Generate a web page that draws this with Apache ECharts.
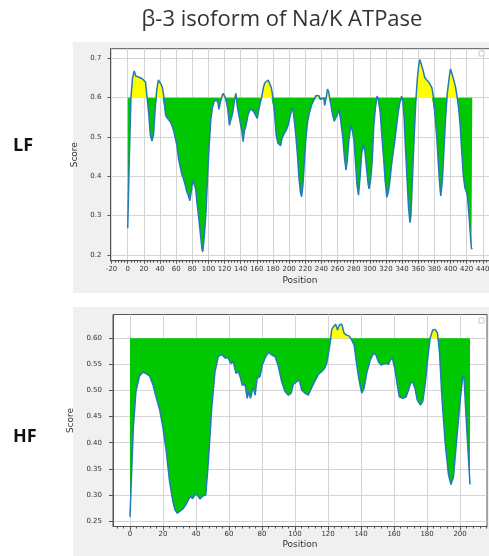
<!DOCTYPE html>
<html>
<head>
<meta charset="utf-8">
<script src="https://cdn.jsdelivr.net/npm/echarts@6/dist/echarts.min.js"></script>
<style>
  html, body { margin: 0; padding: 0; background: #ffffff; }
  #chart { width: 489px; height: 556px; }
</style>
</head>
<body>
<div id="chart"></div>
<script>
// Hydrophobicity-style score profiles, threshold drawn at 0.6
const THRESHOLD = 0.6;

// LF profile: residue position and score
const lfPos = [0, 2, 4, 6, 8, 10, 12, 14, 16, 18, 20, 22, 24, 26, 28, 30, 32, 34, 36, 38, 39, 41, 43, 45, 47, 49, 51, 53, 55, 57, 59, 61, 63, 65, 67, 69, 71, 73, 75, 77, 79, 80.5, 82.5, 84, 86, 88, 90, 92, 93, 95, 97, 99, 101, 103, 105, 107, 110, 112, 113, 115, 117, 118.5, 120, 122, 124, 126, 128, 130, 132, 134, 136, 138, 140, 141.5, 143, 144.5, 146.5, 149, 152, 154, 156, 158, 160.5, 162, 164, 166, 168, 170, 172, 174, 176, 178, 180, 182, 184, 186, 188, 189.5, 191, 193, 195, 197, 199, 201, 203, 204.5, 206.5, 208.5, 210.5, 212, 214, 215.5, 217, 219, 221, 223, 225, 228, 231, 233, 235, 237, 239, 241, 243, 244, 246, 247.5, 249, 250.5, 252, 254, 256, 258, 260, 262, 264, 266.5, 268.5, 270.5, 272, 274, 276.5, 278.5, 280.5, 282.5, 284, 286, 288, 290, 292, 294, 296, 298, 299, 301, 303, 305, 307, 309, 311, 313, 315, 317, 319, 321, 323, 325, 327, 329, 331, 333, 335, 337, 339.5, 341, 342.5, 344, 346, 348, 349.8, 351, 353, 355, 357, 359, 360.5, 362, 364, 366, 368, 370.5, 373, 375, 377, 379, 381, 383, 385, 387, 388, 390, 392, 394, 396, 398, 400, 402, 404, 406, 408, 410, 412, 414, 416, 418, 419.5, 421, 423, 425, 426, 427];
const lfScore = [0.268, 0.45, 0.60, 0.65, 0.668, 0.655, 0.657, 0.652, 0.655, 0.648, 0.650, 0.640, 0.600, 0.560, 0.505, 0.490, 0.505, 0.570, 0.620, 0.645, 0.650, 0.635, 0.625, 0.600, 0.555, 0.548, 0.550, 0.538, 0.528, 0.515, 0.497, 0.478, 0.445, 0.425, 0.405, 0.395, 0.380, 0.362, 0.352, 0.338, 0.365, 0.390, 0.386, 0.370, 0.330, 0.295, 0.255, 0.215, 0.208, 0.250, 0.310, 0.400, 0.480, 0.545, 0.575, 0.590, 0.595, 0.585, 0.570, 0.590, 0.605, 0.611, 0.607, 0.595, 0.570, 0.530, 0.535, 0.560, 0.590, 0.611, 0.575, 0.553, 0.530, 0.515, 0.488, 0.515, 0.528, 0.555, 0.572, 0.569, 0.565, 0.557, 0.547, 0.565, 0.585, 0.600, 0.625, 0.638, 0.642, 0.645, 0.640, 0.625, 0.600, 0.560, 0.505, 0.485, 0.480, 0.478, 0.495, 0.505, 0.510, 0.520, 0.532, 0.550, 0.567, 0.575, 0.540, 0.500, 0.450, 0.400, 0.360, 0.348, 0.375, 0.440, 0.500, 0.540, 0.560, 0.582, 0.595, 0.605, 0.610, 0.605, 0.595, 0.590, 0.600, 0.580, 0.600, 0.622, 0.615, 0.610, 0.580, 0.555, 0.540, 0.540, 0.558, 0.570, 0.540, 0.500, 0.450, 0.416, 0.440, 0.490, 0.530, 0.515, 0.490, 0.430, 0.380, 0.352, 0.400, 0.460, 0.481, 0.462, 0.420, 0.380, 0.368, 0.390, 0.440, 0.530, 0.575, 0.604, 0.595, 0.560, 0.500, 0.450, 0.390, 0.347, 0.360, 0.390, 0.430, 0.460, 0.490, 0.525, 0.560, 0.585, 0.604, 0.590, 0.550, 0.480, 0.400, 0.320, 0.282, 0.300, 0.400, 0.500, 0.590, 0.650, 0.680, 0.697, 0.695, 0.670, 0.652, 0.645, 0.640, 0.636, 0.625, 0.600, 0.550, 0.500, 0.430, 0.370, 0.350, 0.390, 0.470, 0.550, 0.610, 0.645, 0.673, 0.660, 0.655, 0.630, 0.605, 0.575, 0.530, 0.460, 0.400, 0.370, 0.362, 0.350, 0.300, 0.240, 0.217, 0.215];

// HF profile: residue position and score
const hfPos = [0, 2, 3.6, 5.7, 7.7, 10, 12, 14, 16, 18, 20, 22, 24, 26, 27.3, 28.7, 30.3, 32.3, 34.3, 36.4, 38, 39.4, 40.8, 42.4, 44, 45.9, 47.5, 49.5, 51.5, 53.5, 55.6, 57.6, 59.6, 61, 62.6, 64.2, 65.7, 66.7, 68, 69.7, 71, 72, 73, 74.7, 75.8, 77, 78.8, 80.2, 81.8, 83.8, 85.9, 87.9, 89.9, 91.9, 93.9, 96, 97.6, 99, 101, 102.6, 104, 106, 108, 110, 112, 114, 116, 117.6, 119.2, 120.8, 122.2, 123.2, 124.6, 125.7, 126.9, 128.3, 129.7, 131.3, 132.9, 134.3, 135.8, 137.4, 138.8, 140.4, 141.8, 143.4, 145.5, 147.5, 149, 150.5, 152, 153.5, 155, 156.6, 157.6, 159, 160.6, 162, 163.2, 165.3, 167.3, 168.7, 170, 171.3, 172.7, 174, 176, 177.4, 178.8, 180.2, 181.8, 183.4, 184.8, 186.3, 187.5, 188.9, 190.9, 193, 194.5, 196, 198, 200, 201.6, 202.4, 204, 206];
const hfScore = [0.258, 0.428, 0.498, 0.527, 0.535, 0.532, 0.527, 0.510, 0.485, 0.463, 0.428, 0.383, 0.325, 0.287, 0.271, 0.265, 0.269, 0.274, 0.284, 0.297, 0.293, 0.301, 0.300, 0.292, 0.298, 0.300, 0.364, 0.466, 0.536, 0.565, 0.569, 0.562, 0.562, 0.552, 0.555, 0.533, 0.536, 0.527, 0.510, 0.512, 0.485, 0.498, 0.485, 0.507, 0.491, 0.523, 0.527, 0.549, 0.562, 0.573, 0.568, 0.565, 0.546, 0.517, 0.498, 0.491, 0.495, 0.512, 0.517, 0.520, 0.501, 0.495, 0.491, 0.505, 0.518, 0.530, 0.536, 0.541, 0.552, 0.581, 0.616, 0.622, 0.627, 0.616, 0.626, 0.627, 0.610, 0.606, 0.604, 0.597, 0.587, 0.549, 0.520, 0.495, 0.504, 0.533, 0.558, 0.571, 0.568, 0.555, 0.549, 0.550, 0.552, 0.550, 0.558, 0.562, 0.539, 0.510, 0.488, 0.485, 0.488, 0.501, 0.514, 0.516, 0.504, 0.482, 0.472, 0.479, 0.511, 0.555, 0.600, 0.616, 0.617, 0.610, 0.574, 0.491, 0.402, 0.338, 0.320, 0.335, 0.408, 0.479, 0.527, 0.523, 0.428, 0.320];

// Tick labels
const lfXTicks = [-20, 0, 20, 40, 60, 80, 100, 120, 140, 160, 180, 200, 220, 240, 260, 280, 300, 320, 340, 360, 380, 400, 420, 440];
const lfYTicks = [0.2, 0.3, 0.4, 0.5, 0.6, 0.7];
const hfXTicks = [0, 20, 40, 60, 80, 100, 120, 140, 160, 180, 200];
const hfYTicks = [0.25, 0.30, 0.35, 0.40, 0.45, 0.50, 0.55, 0.60];

function minorTicks(lo, hi, step) {
  const out = [];
  for (let v = Math.ceil(lo / step) * step; v <= hi; v += step) out.push(v);
  return out;
}

const AXIS_COLOR = '#555';
const GRID_COLOR = '#d4d4d4';
const LABEL_FONT = 'DejaVu Sans';

function pairs(xs, ys, f) {
  return xs.map((x, i) => [x, f ? f(ys[i]) : ys[i]]);
}

function panelAxes(idx, xr, yr, xTicks, yTicks, yDigits, opts) {
  const major = {
    type: 'value', gridIndex: idx, min: xr[0], max: xr[1], position: 'bottom',
    axisLine: { show: true, onZero: false, lineStyle: { color: AXIS_COLOR, width: 1 } },
    axisTick: { show: true, customValues: xTicks, length: opts.tickLen, lineStyle: { color: AXIS_COLOR } },
    axisLabel: { customValues: xTicks, fontSize: 7, color: '#333', margin: opts.xMargin, fontFamily: LABEL_FONT },
    splitLine: { show: true, lineStyle: { color: GRID_COLOR, width: 1 } },
    name: 'Position', nameLocation: 'middle', nameGap: opts.xNameGap,
    nameTextStyle: { fontSize: 9, color: '#333', fontFamily: LABEL_FONT }
  };
  const minor = {
    type: 'value', gridIndex: idx, min: xr[0], max: xr[1], position: 'bottom',
    axisLine: { show: false, onZero: false },
    axisTick: { show: true, customValues: minorTicks(xr[0], xr[1], 4), length: 2, lineStyle: { color: AXIS_COLOR } },
    axisLabel: { show: false },
    splitLine: { show: false }
  };
  const y = {
    type: 'value', gridIndex: idx, min: yr[0], max: yr[1], position: 'left',
    axisLine: { show: true, onZero: false, lineStyle: { color: AXIS_COLOR, width: 1 } },
    axisTick: { show: true, customValues: yTicks, length: opts.tickLen, lineStyle: { color: AXIS_COLOR } },
    axisLabel: { customValues: yTicks, fontSize: 7, color: '#333', margin: opts.yMargin, fontFamily: LABEL_FONT,
                 formatter: v => Number(v).toFixed(yDigits) },
    splitLine: { show: true, lineStyle: { color: GRID_COLOR, width: 1 } },
    name: 'Score', nameLocation: 'middle', nameGap: opts.yNameGap,
    nameTextStyle: { fontSize: 9, color: '#333', fontFamily: LABEL_FONT }
  };
  return { major, minor, y };
}

function profileSeries(xAxisIndex, yAxisIndex, xs, ys) {
  const base = {
    type: 'line', xAxisIndex, yAxisIndex, symbol: 'none', silent: true,
    lineStyle: { width: 0 }
  };
  return [
    Object.assign({}, base, {
      data: pairs(xs, ys, v => Math.min(v, THRESHOLD)),
      areaStyle: { color: '#00c800', opacity: 1, origin: THRESHOLD }, z: 2
    }),
    Object.assign({}, base, {
      data: pairs(xs, ys, v => Math.max(v, THRESHOLD)),
      areaStyle: { color: '#ffff00', opacity: 1, origin: THRESHOLD }, z: 2
    }),
    {
      type: 'line', xAxisIndex, yAxisIndex, symbol: 'none', silent: true,
      data: pairs(xs, ys), lineStyle: { color: '#2479b8', width: 1.5 }, z: 3
    }
  ];
}

const lf = panelAxes(0, [-21.35, 448.35], [0.1855, 0.7245], lfXTicks, lfYTicks, 1,
  { tickLen: 3, xMargin: 5, yMargin: 9, xNameGap: 15, yNameGap: 21 });
const hf = panelAxes(1, [-10.3, 216.3], [0.2396, 0.6455], hfXTicks, hfYTicks, 2,
  { tickLen: 4, xMargin: 4, yMargin: 11, xNameGap: 14, yNameGap: 24 });

const chart = echarts.init(document.getElementById('chart'), null, { renderer: 'canvas' });
chart.setOption({
  animation: false,
  backgroundColor: '#ffffff',
  grid: [
    { left: 110.5, top: 48.7, width: 379, height: 212, show: true, backgroundColor: '#ffffff',
      borderColor: AXIS_COLOR, borderWidth: 1, containLabel: false, outerBoundsMode: 'none' },
    { left: 113, top: 314.5, width: 374, height: 212, show: true, backgroundColor: '#ffffff',
      borderColor: AXIS_COLOR, borderWidth: 1, containLabel: false, outerBoundsMode: 'none' }
  ],
  xAxis: [lf.major, lf.minor, hf.major, hf.minor],
  yAxis: [lf.y, hf.y],
  series: [].concat(
    profileSeries(0, 0, lfPos, lfScore),
    profileSeries(2, 1, hfPos, hfScore)
  ),
  graphic: [
    { type: 'rect', z: -10, shape: { x: 73, y: 42, width: 416, height: 251 }, style: { fill: '#f0f0f0' } },
    { type: 'rect', z: -10, shape: { x: 73, y: 307, width: 416, height: 249 }, style: { fill: '#f0f0f0' } },
    { type: 'rect', z: 10, shape: { x: 479, y: 51, width: 5, height: 5 }, style: { fill: '#ffffff', stroke: '#c8c8c8', lineWidth: 1 } },
    { type: 'rect', z: 10, shape: { x: 479, y: 318, width: 5, height: 5 }, style: { fill: '#ffffff', stroke: '#c8c8c8', lineWidth: 1 } },
    { type: 'text', z: 10, style: { text: 'β-3 isoform of Na/K ATPase', x: 282, y: 20, textAlign: 'center', textVerticalAlign: 'middle',
        font: '22px "Open Sans"', fill: '#333' } },
    { type: 'text', z: 10, style: { text: 'LF', x: 13, y: 146, textAlign: 'left', textVerticalAlign: 'middle',
        font: 'bold 18px "Open Sans"', fill: '#111' } },
    { type: 'text', z: 10, style: { text: 'HF', x: 13, y: 437, textAlign: 'left', textVerticalAlign: 'middle',
        font: 'bold 18px "Open Sans"', fill: '#111' } }
  ]
});
</script>
</body>
</html>
